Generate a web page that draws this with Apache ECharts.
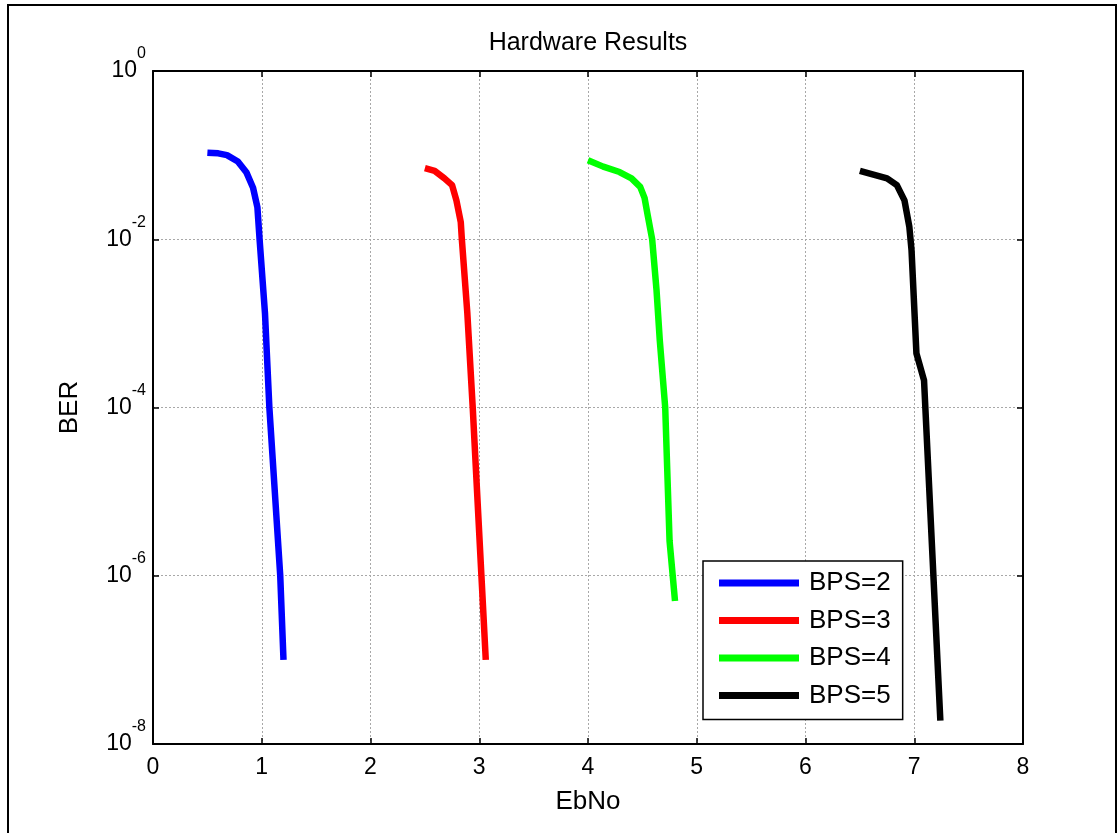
<!DOCTYPE html>
<html>
<head>
<meta charset="utf-8">
<title>Hardware Results</title>
<script src="https://cdn.jsdelivr.net/npm/echarts@6/dist/echarts.min.js"></script>
<style>
	html, body { margin: 0; padding: 0; background: #fff; }
	#chart { width: 1120px; height: 833px; }
</style>
</head>
<body>
<div id="chart"></div>
<script>
// EbNo / BER pairs
var bps2X = [0.5, 0.6, 0.68, 0.78, 0.86, 0.92, 0.96, 0.98, 1.03, 1.07, 1.12, 1.17, 1.2];
var bps2Y = [0.107, 0.105, 0.1, 0.084, 0.062, 0.041, 0.024, 0.01, 1.3e-3, 1e-4, 1e-5, 1e-6, 1e-7];

var bps3X = [2.5, 2.59, 2.68, 2.75, 2.79, 2.83, 2.84, 2.89, 2.94, 3.02, 3.06];
var bps3Y = [0.07, 0.065, 0.053, 0.044, 0.029, 0.016, 0.01, 1.35e-3, 1e-4, 1e-6, 1e-7];

var bps4X = [4.0, 4.14, 4.29, 4.4, 4.48, 4.52, 4.55, 4.59, 4.63, 4.66, 4.71, 4.75, 4.8];
var bps4Y = [0.087, 0.073, 0.063, 0.053, 0.042, 0.031, 0.019, 0.01, 2.5e-3, 6.3e-4, 1e-4, 2.6e-6, 5e-7];

var bps5X = [6.5, 6.75, 6.84, 6.91, 6.955, 6.975, 7.02, 7.09, 7.24];
var bps5Y = [0.065, 0.053, 0.044, 0.029, 0.014, 7.4e-3, 4.4e-4, 2.1e-4, 1.9e-8];

var seriesNames = ["BPS=2", "BPS=3", "BPS=4", "BPS=5"];
var seriesColors = ["#0000ff", "#ff0000", "#00ff00", "#000000"];
var xTicks = [0, 1, 2, 3, 4, 5, 6, 7, 8];

var FONT = "'Liberation Sans', Arial, sans-serif";

function pairs(xs, ys){
	var out = [];
	for (var i = 0; i < xs.length; i++) {
		out.push([xs[i], ys[i]]);
	}
	return out;
}

var allX = [bps2X, bps3X, bps4X, bps5X];
var allY = [bps2Y, bps3Y, bps4Y, bps5Y];
var series = [];
for (var k = 0; k < seriesNames.length; k++) {
	series.push({
		name: seriesNames[k],
		type: 'line',
		showSymbol: false,
		symbol: 'none',
		color: seriesColors[k],
		lineStyle: { width: 6.5, color: seriesColors[k], cap: 'butt', join: 'round' },
		data: pairs(allX[k], allY[k])
	});
}

var gridLine = { show: true, lineStyle: { color: '#a8a8a8', type: [2, 2], width: 1 } };
var axisBlack = { show: true, onZero: false, lineStyle: { color: '#000', width: 2 } };
var tickIn = { show: true, inside: true, length: 6, lineStyle: { color: '#000', width: 1.5 } };

var chart = echarts.init(document.getElementById('chart'), null, { renderer: 'canvas' });
chart.setOption({
	animation: false,
	backgroundColor: '#fff',
	textStyle: { fontFamily: FONT, color: '#000' },
	title: {
		text: 'Hardware Results',
		left: 588,
		top: 31,
		padding: 0,
		textAlign: 'center',
		textStyle: { fontFamily: FONT, fontSize: 25, fontWeight: 'normal', color: '#000' }
	},
	graphic: [{
		type: 'rect',
		shape: { x: 8, y: 5, width: 1108, height: 840 },
		style: { fill: null, stroke: '#000', lineWidth: 2 },
		silent: true
	}],
	grid: { left: 153, top: 71, right: 97, bottom: 89 },
	legend: {
		data: seriesNames,
		orient: 'vertical',
		left: 703,
		top: 561,
		icon: 'rect',
		itemWidth: 80,
		itemHeight: 7,
		itemGap: 11.5,
		padding: [9, 12, 11, 16],
		borderColor: '#000',
		borderWidth: 1.5,
		backgroundColor: '#fff',
		textStyle: { fontFamily: FONT, fontSize: 26, lineHeight: 24, color: '#000', padding: [0, 0, 0, 5] }
	},
	xAxis: [{
		type: 'value',
		min: 0,
		max: 8,
		interval: 1,
		name: 'EbNo',
		nameLocation: 'middle',
		nameGap: 45,
		nameTextStyle: { fontFamily: FONT, fontSize: 26, color: '#000' },
		axisLine: axisBlack,
		axisTick: tickIn,
		splitLine: gridLine,
		axisLabel: {
			fontFamily: FONT, fontSize: 23, color: '#000', margin: 12,
			formatter: function(v){ return xTicks.indexOf(v) >= 0 ? String(v) : ''; }
		}
	}, {
		type: 'value',
		position: 'top',
		min: 0,
		max: 8,
		interval: 1,
		axisLine: axisBlack,
		axisTick: tickIn,
		axisLabel: { show: false },
		splitLine: { show: false }
	}],
	yAxis: [{
		type: 'log',
		logBase: 10,
		min: 1e-8,
		max: 1,
		interval: 2,
		name: 'BER',
		nameLocation: 'middle',
		nameRotate: 90,
		nameGap: 70,
		nameTextStyle: { fontFamily: FONT, fontSize: 26, color: '#000' },
		axisLine: axisBlack,
		axisTick: tickIn,
		splitLine: gridLine,
		minorTick: { show: false },
		axisLabel: {
			margin: 7,
			formatter: function(v){
				var e = Math.round(Math.log(v) / Math.LN10);
				return '{b|10}{e|' + e + '}';
			},
			rich: {
				b: { fontFamily: FONT, fontSize: 23, color: '#000' },
				e: { fontFamily: FONT, fontSize: 16, color: '#000', padding: [0, 0, 34, 0] }
			}
		}
	}, {
		type: 'log',
		logBase: 10,
		position: 'right',
		min: 1e-8,
		max: 1,
		interval: 2,
		axisLine: axisBlack,
		axisTick: tickIn,
		axisLabel: { show: false },
		splitLine: { show: false }
	}],
	series: series
});
</script>
</body>
</html>
